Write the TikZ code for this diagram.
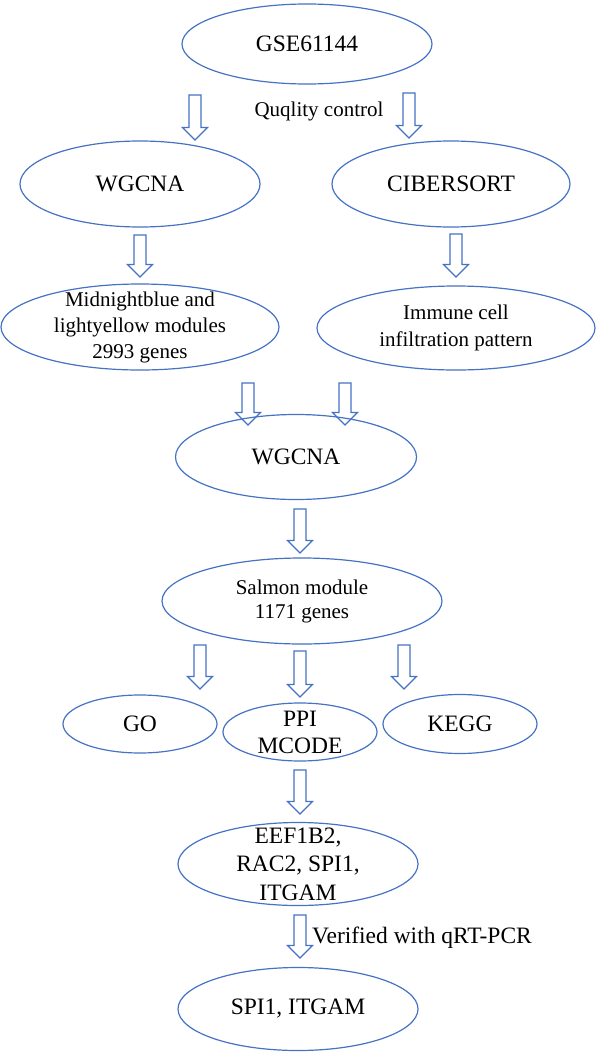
\documentclass[tikz,border=0pt]{standalone}
\usepackage{fontspec}
\setmainfont{Liberation Serif}
\usepackage{tikz}
\usetikzlibrary{shapes.geometric}
\definecolor{flowblue}{RGB}{68, 114, 196}

\begin{document}
\begin{tikzpicture}[x=1pt, y=-1pt]
    % Styles
    \tikzstyle{oval} = [ellipse, draw=flowblue, line width=1.2pt, inner sep=-20pt,
        align=center, font=\fontsize{23.5}{28.5}\selectfont]
    \tikzstyle{ovalsmall} = [oval, font=\fontsize{21}{26}\selectfont]
    \tikzstyle{note} = [font=\fontsize{21}{25}\selectfont, inner sep=0pt]
    \tikzstyle{hollow} = [draw=flowblue, line width=1.1pt, fill=white, line join=miter]
    \tikzset{pics/downarrow/.style={code={
        \draw [hollow] (-6,0) -- (6,0) -- (6,{#1-12.5}) -- (12.5,{#1-12.5}) -- (0,#1)
            -- (-12.5,{#1-12.5}) -- (-6,{#1-12.5}) -- cycle;}}}

    \useasboundingbox (0,0) rectangle (597,1052);

    % Top node and quality control
    \node [oval, minimum width=250pt, minimum height=80pt] (gse) at (307,44) {GSE61144};
    \node [note] (qc) at (319,111) {Quqlity control};
    \pic at (195,95) {downarrow=45};
    \pic at (409,93) {downarrow=45};

    % Two branches
    \node [oval, minimum width=240pt, minimum height=86pt] (wgl) at (140,184) {WGCNA};
    \node [oval, minimum width=238pt, minimum height=86pt] (cib) at (451,184) {CIBERSORT};
    \pic at (140,235) {downarrow=42};
    \pic at (456,234) {downarrow=43};

    \node [ovalsmall, minimum width=278pt, minimum height=86pt] (mid) at (140,327)
        {Midnightblue and\\lightyellow modules\\2993 genes};
    \node [ovalsmall, minimum width=278pt, minimum height=84pt, font=\fontsize{21}{27}\selectfont]
        (imm) at (456,328) {Immune cell\\infiltration pattern};
    \pic at (248,383) {downarrow=42};
    \pic at (345,383) {downarrow=42};

    % Merged analysis
    \node [oval, minimum width=241pt, minimum height=85pt] (wgc) at (296,457) {WGCNA};
    \pic at (300,509) {downarrow=44};
    \node [ovalsmall, minimum width=280pt, minimum height=86pt, font=\fontsize{21}{24}\selectfont]
        (sal) at (302,601) {Salmon module\\1171 genes};
    \pic at (200,645) {downarrow=44};
    \pic at (300,651) {downarrow=46};
    \pic at (404,645) {downarrow=44};

    % Enrichment row
    \node [oval, minimum width=154pt, minimum height=58pt] (go) at (140,724) {GO};
    \node [oval, minimum width=154pt, minimum height=58pt, font=\fontsize{23.5}{27}\selectfont]
        (ppi) at (300,732) {PPI\\MCODE};
    \node [oval, minimum width=154pt, minimum height=59pt] (kegg) at (460,724) {KEGG};
    \pic at (300,770) {downarrow=44};

    % Hub genes
    \node [oval, minimum width=240pt, minimum height=83pt] (eef) at (298,864)
        {EEF1B2,\\RAC2, SPI1,\\ITGAM};
    \pic at (300,915) {downarrow=43};
    \node [note, anchor=west, font=\fontsize{23.5}{28}\selectfont] (qpcr) at (312,938)
        {Verified with qRT-PCR};
    \node [oval, minimum width=240pt, minimum height=83pt] (spi) at (298,1009) {SPI1, ITGAM};
\end{tikzpicture}
\end{document}
